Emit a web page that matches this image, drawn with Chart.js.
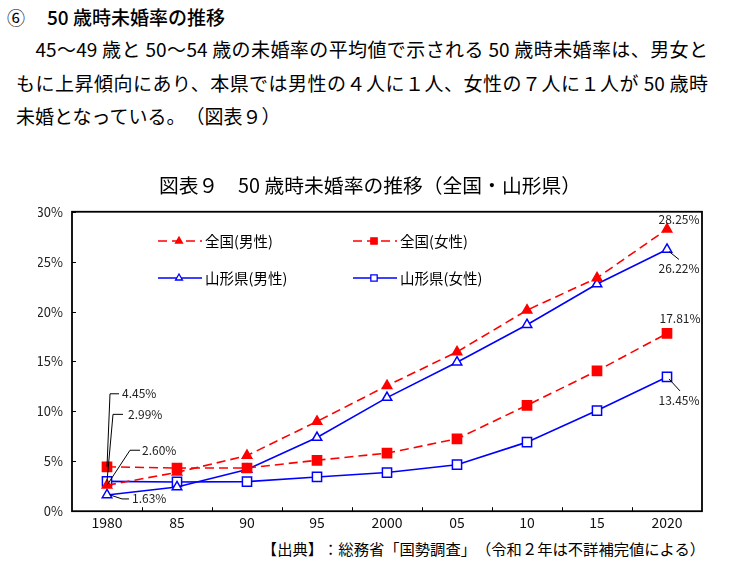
<!DOCTYPE html>
<html>
<head>
<meta charset="utf-8">
<script src="https://cdn.jsdelivr.net/npm/chart.js@4.4.0/dist/chart.umd.min.js"></script>
<style>
  body { margin: 0; background: #fff; font-family: "Noto Sans CJK JP", sans-serif; color: #000; }
  .page { position: relative; width: 731px; height: 566px; overflow: hidden; }
  .ln { position: absolute; white-space: nowrap; font-size: 19px; line-height: 26px; text-spacing-trim: space-all; }
  .just { text-align: justify; text-align-last: justify; }
  #chart { position: absolute; left: 0; top: 160px; }
</style>
</head>
<body>
<div class="page">
  <div class="ln" style="left:7px; top:4px; font-size:18px;">⑥</div>
  <div class="ln" style="left:47px; top:4px; font-size:19px; font-weight:500;">50 歳時未婚率の推移</div>
  <div class="ln just" style="left:16px; top:36px; width:692px;">　45～49 歳と 50～54 歳の未婚率の平均値で示される 50 歳時未婚率は、男女と</div>
  <div class="ln just" style="left:16px; top:70px; width:692px;">もに上昇傾向にあり、本県では男性の４人に１人、女性の７人に１人が 50 歳時</div>
  <div class="ln" style="left:16px; top:103px;">未婚となっている。（図表９）</div>
  <canvas id="chart" width="731" height="374"></canvas>
  <div class="ln" style="right:26px; top:537px; font-size:15.3px; line-height:22px;">【出典】：総務省「国勢調査」（令和２年は不詳補完値による）</div>
</div>
<script>
// 50歳時未婚率 (%)
var years = ['1980', '85', '90', '95', '2000', '05', '10', '15', '2020'];
var zenkokuMale   = [2.60, 3.89, 5.57, 8.99, 12.57, 15.96, 20.14, 23.37, 28.25];
var zenkokuFemale = [4.45, 4.32, 4.33, 5.10, 5.82, 7.25, 10.61, 14.06, 17.81];
var yamagataMale  = [1.63, 2.43, 4.18, 7.38, 11.38, 14.93, 18.68, 22.76, 26.22];
var yamagataFemale = [2.99, 2.93, 2.96, 3.43, 3.87, 4.66, 6.92, 10.08, 13.45];
var seriesNames = ['全国(男性)', '全国(女性)', '山形県(男性)', '山形県(女性)'];

var RED = '#ff0000', BLUE = '#0000ff';
var FONT = '"Noto Sans CJK JP", "Noto Sans", sans-serif';

// value labels: dataset, index, text offset, leader line (offsets from the point)
var valueLabels = [
  { ds: 0, i: 8, dx: 12, dy: -10, align: 'center' },
  { ds: 2, i: 8, dx: 12, dy: 19, align: 'center', leader: [[2, 2], [12, 10]] },
  { ds: 1, i: 8, dx: 13, dy: -15, align: 'center' },
  { ds: 3, i: 8, dx: 12, dy: 23, align: 'center', leader: [[2, 2], [13, 14]] },
  { ds: 1, i: 0, dx: 15, dy: -73, align: 'left', leader: [[0, 0], [3, -73], [12, -73]] },
  { ds: 3, i: 0, dx: 21, dy: -67, align: 'left', leader: [[0, 0], [6, -67], [16, -67]] },
  { ds: 0, i: 0, dx: 35, dy: -35, align: 'left', leader: [[0, 0], [23, -35], [33, -35]] },
  { ds: 2, i: 0, dx: 25, dy: 4, align: 'left', leader: [[3, 0], [15, 4], [22, 4]] }
];

// legend items inside the plot (canvas coordinates)
var legendSpots = [[158, 81], [353, 81], [158, 118], [353, 118]];

var framePlugin = {
  id: 'frame',
  beforeDatasetsDraw: function(chart) {
    var ctx = chart.ctx, a = chart.chartArea;
    var ys = chart.scales.y, n = years.length;
    ctx.save();
    ctx.strokeStyle = '#000';
    ctx.lineWidth = 1;
    ctx.beginPath();
    ys.ticks.forEach(function(t) {
      var y = Math.round(ys.getPixelForValue(t.value)) + 0.5;
      ctx.moveTo(a.left, y); ctx.lineTo(a.left + 4, y);
    });
    for (var k = 1; k < n; k++) {
      var x = Math.round(a.left + k * (a.right - a.left) / n) + 0.5;
      ctx.moveTo(x, a.bottom); ctx.lineTo(x, a.bottom - 4);
    }
    ctx.stroke();
    ctx.lineWidth = 1.8;
    ctx.strokeRect(a.left, a.top, a.right - a.left, a.bottom - a.top);
    ctx.restore();
  }
};

var legendPlugin = {
  id: 'insideLegend',
  afterDraw: function(chart) {
    var ctx = chart.ctx;
    ctx.save();
    chart.data.datasets.forEach(function(d, k) {
      var x = legendSpots[k][0], y = legendSpots[k][1];
      ctx.strokeStyle = d.borderColor;
      ctx.lineWidth = d.borderWidth;
      ctx.setLineDash(d.borderDash || []);
      ctx.beginPath();
      ctx.moveTo(x, y); ctx.lineTo(x + 44, y);
      ctx.stroke();
      ctx.setLineDash([]);
      ctx.fillStyle = d.pointBackgroundColor;
      ctx.lineWidth = 1.3;
      Chart.helpers.drawPoint(ctx, { pointStyle: d.pointStyle, radius: d.pointStyle === 'rect' ? 4.5 : 4, borderWidth: 1.3 }, x + 21, y);
      ctx.fillStyle = '#000';
      ctx.font = '14.5px ' + FONT;
      ctx.textBaseline = 'middle';
      ctx.textAlign = 'left';
      ctx.fillText(d.label, x + 47, y);
    });
    ctx.restore();
  }
};

var labelPlugin = {
  id: 'valueLabels',
  afterDatasetsDraw: function(chart) {
    var ctx = chart.ctx;
    ctx.save();
    ctx.font = '12px ' + FONT;
    ctx.fillStyle = '#222';
    ctx.strokeStyle = '#000';
    ctx.lineWidth = 1;
    ctx.textBaseline = 'middle';
    valueLabels.forEach(function(l) {
      var p = chart.getDatasetMeta(l.ds).data[l.i];
      var v = chart.data.datasets[l.ds].data[l.i];
      if (l.leader) {
        ctx.beginPath();
        l.leader.forEach(function(q, j) {
          if (j === 0) ctx.moveTo(p.x + q[0], p.y + q[1]);
          else ctx.lineTo(p.x + q[0], p.y + q[1]);
        });
        ctx.stroke();
      }
      ctx.textAlign = l.align;
      ctx.fillText(v.toFixed(2) + '%', p.x + l.dx, p.y + l.dy);
    });
    ctx.restore();
  }
};

function series(label, data, color, dashed, style, filled) {
  return {
    label: label,
    data: data,
    borderColor: color,
    borderWidth: 1.6,
    borderDash: dashed ? [9, 5] : [],
    pointStyle: style,
    pointRadius: style === 'rect' ? 6.5 : 5.5,
    pointHoverRadius: style === 'rect' ? 6.5 : 5.5,
    pointBorderWidth: 1.5,
    pointBorderColor: color,
    pointBackgroundColor: filled ? color : '#fff',
    tension: 0,
    fill: false
  };
}

new Chart(document.getElementById('chart'), {
  type: 'line',
  data: {
    labels: years,
    datasets: [
      series(seriesNames[0], zenkokuMale, RED, true, 'triangle', true),
      series(seriesNames[1], zenkokuFemale, RED, true, 'rect', true),
      series(seriesNames[2], yamagataMale, BLUE, false, 'triangle', false),
      series(seriesNames[3], yamagataFemale, BLUE, false, 'rect', false)
    ]
  },
  options: {
    responsive: false,
    animation: false,
    layout: { padding: { left: 38, right: 29, top: 0, bottom: 0 } },
    plugins: {
      legend: { display: false },
      tooltip: { enabled: false },
      title: {
        display: true,
        text: '図表９　50 歳時未婚率の推移（全国・山形県）',
        color: '#000',
        font: { family: FONT, size: 19.8, weight: 'normal' },
        padding: { top: 14, bottom: 14 }
      }
    },
    scales: {
      x: {
        offset: true,
        grid: { display: false, drawTicks: false },
        border: { display: false },
        ticks: { color: '#111', padding: 3, font: { family: FONT, size: 14 } }
      },
      y: {
        min: 0,
        max: 30,
        afterFit: function(scale) { scale.width = 34; },
        grid: { display: false, drawTicks: false },
        border: { display: false },
        ticks: {
          stepSize: 5,
          padding: 9,
          color: '#222',
          font: { family: FONT, size: 13 },
          callback: function(v) { return v + '%'; }
        }
      }
    }
  },
  plugins: [framePlugin, legendPlugin, labelPlugin]
});
</script>
</body>
</html>
